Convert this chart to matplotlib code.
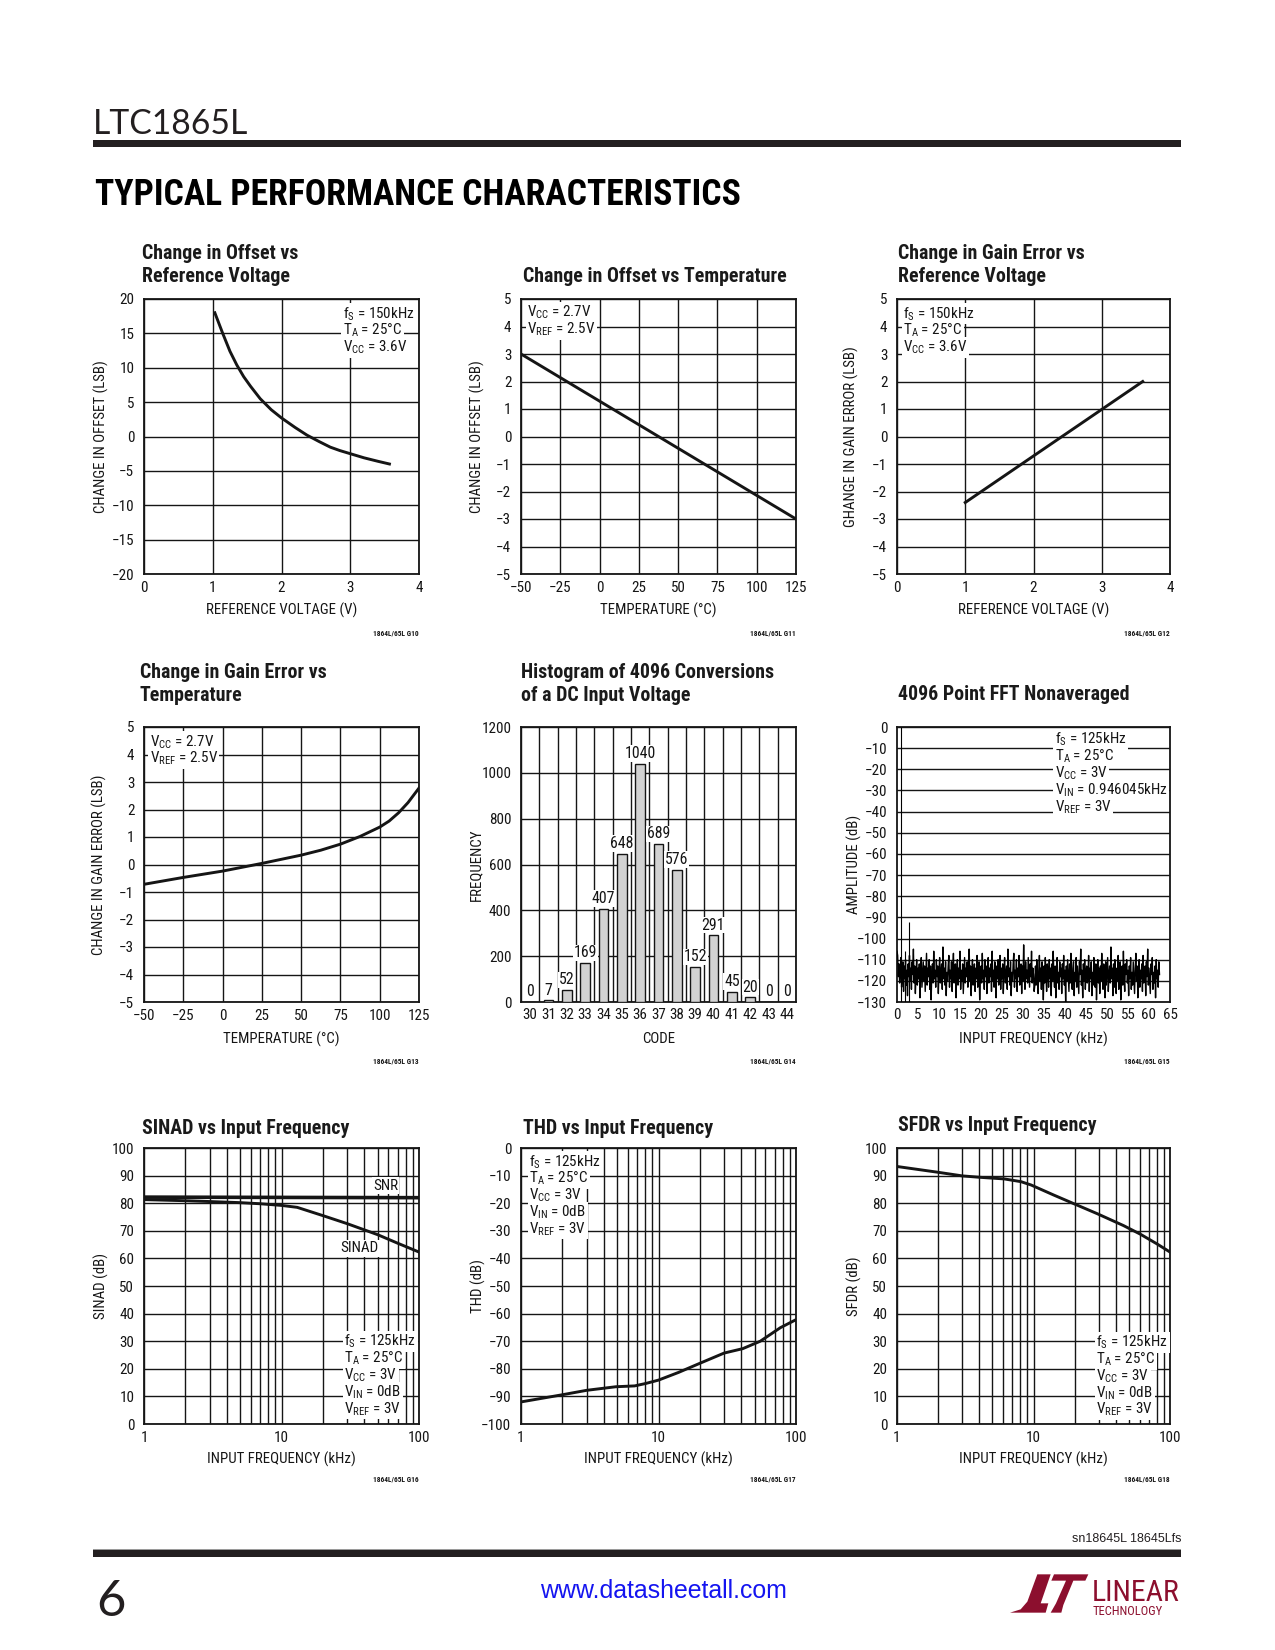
import numpy as np
import matplotlib
matplotlib.use('Agg')
import matplotlib.pyplot as plt
from matplotlib import font_manager as fm
from matplotlib.patches import Rectangle, Polygon
from matplotlib.ticker import FixedLocator, NullFormatter, FixedFormatter, MultipleLocator

# ---------------- data ----------------
offset_vref_v = [1.03, 1.145, 1.25, 1.35, 1.45, 1.55, 1.69, 1.85, 2.00, 2.20, 2.37, 2.55, 2.71, 2.85, 3.00, 3.20, 3.40, 3.57]
offset_vref_lsb = [18.0, 15.0, 12.4, 10.4, 8.7, 7.3, 5.5, 3.9, 2.7, 1.3, 0.2, -0.75, -1.55, -2.05, -2.5, -3.1, -3.6, -4.0]

offset_temp_c = [-50, 125]
offset_temp_lsb = [3.0, -3.0]

gain_vref_v = [1.0, 3.6]
gain_vref_lsb = [-2.4, 2.0]

gain_temp_c = [-50, -25, 0, 25, 50, 62.5, 75, 87.5, 100, 106, 112, 118, 125]
gain_temp_lsb = [-0.72, -0.47, -0.24, 0.04, 0.34, 0.52, 0.74, 1.02, 1.36, 1.58, 1.88, 2.25, 2.78]

hist_codes = [30, 31, 32, 33, 34, 35, 36, 37, 38, 39, 40, 41, 42, 43, 44]
hist_counts = [0, 7, 52, 169, 407, 648, 1040, 689, 576, 152, 291, 45, 20, 0, 0]

fft_noise_db = [
    -106, -108, -118, -112, -121, -114, -109, -123, -116, -111, -125, -113, -119, -110, -122, -115, -127, -112, -118, -108,
    -120, -114, -124, -111, -117, -105, -121, -113, -126, -116, -110, -122, -114, -119, -112, -128, -115, -109, -123, -117,
    -111, -120, -113, -125, -116, -107, -122, -114, -118, -110, -124, -113, -129, -117, -112, -121, -106, -119, -115, -123,
    -110, -118, -113, -126, -115, -109, -121, -116, -112, -124, -104, -119, -114, -122, -111, -127, -116, -120, -113, -108,
    -123, -115, -119, -111, -125, -114, -107, -121, -117, -112, -128, -116, -110, -122, -114, -119, -106, -124, -115, -120,
    -112, -126, -117, -109, -121, -114, -118, -111, -123, -115, -105, -120, -113, -127, -116, -110, -122, -118, -112, -125,
    -114, -119, -108, -123, -116, -111, -129, -117, -113, -121, -107, -119, -115, -124, -110, -118, -113, -126, -116, -109,
    -121, -114, -118, -112, -125, -106, -120, -115, -123, -111, -117, -128, -113, -119, -110, -122, -116, -108, -124, -114,
    -119, -112, -126, -115, -109, -121, -117, -113, -124, -105, -118, -114, -122, -111, -127, -116, -120, -112, -107, -123,
    -115, -119, -110, -125, -114, -118, -108, -122, -116, -112, -126, -113, -120, -103, -117, -124, -111, -119, -115, -121,
    -109, -116, -123, -112, -118, -106, -121, -114, -117, -125, -122,
    -113, -122, -110, -119, -126, -115, -108, -120, -114, -124, -111, -117, -129, -113, -121, -109, -118, -125, -112, -116,
    -123, -110, -119, -114, -127, -112, -120, -106, -117, -123, -113, -128, -115, -109, -121, -116, -124, -111, -118, -114,
    -126, -112, -119, -108, -122, -115, -130, -113, -120, -110, -117, -125, -112, -121, -107, -118, -124, -114, -111, -127,
    -116, -120, -109, -123, -113, -119, -126, -111, -117, -105, -122, -115, -128, -112, -120, -110, -124, -116, -113, -121,
    -118, -108, -125, -114, -119, -111, -127, -116, -122, -109, -115, -123, -112, -129, -117, -110, -121, -114, -126, -113,
    -120, -107, -118, -124, -112, -116, -128, -111, -122, -115, -109, -125, -117, -113, -121, -104, -119, -114, -127, -112,
    -123, -110, -117, -126, -114, -120, -108, -124, -116, -111, -129, -118, -113, -122, -106, -119, -125, -112, -117, -110,
    -121, -115, -127, -113, -119, -109, -124, -116, -122, -111, -118, -126, -114, -107, -120, -113, -128, -117, -110, -123,
    -115, -119, -112, -125, -108, -121, -116, -113, -127, -111, -118, -105, -122, -114, -120, -126, -112, -117, -109, -124,
    -116, -121, -113, -128, -110, -119, -115, -123, -111, -117,
]
fft_span_khz = 62.5
fft_peak_khz = [0.946, 1.89, 2.84]
fft_peak_db = [0.0, -106.0, -92.0]

sinad_f = [1, 2, 3, 5, 7, 10, 13, 20, 30, 50, 70, 100]
sinad_db = [81.3, 80.9, 80.6, 80.2, 79.8, 79.2, 78.5, 75.5, 72.6, 68.6, 65.5, 62.3]
snr_f = [1, 100]
snr_db = [82.2, 82.0]

thd_f = [1, 2, 3, 4.9, 6.7, 8.1, 10, 14, 20, 30, 41, 55, 77, 100]
thd_db = [-92.0, -89.4, -87.8, -86.5, -86.2, -85.3, -84.1, -81.3, -78.0, -74.3, -72.7, -70.0, -65.1, -62.2]

sfdr_f = [1, 2, 3, 4, 6.1, 8.1, 9.6, 14, 19.8, 29.3, 45.6, 60.5, 80, 100]
sfdr_db = [93.3, 91.2, 89.9, 89.4, 88.8, 87.8, 86.6, 83.0, 79.8, 76.2, 71.9, 68.8, 65.3, 62.3]

# ---------------- fonts ----------------
avail = {f.name for f in fm.fontManager.ttflist}
def pick(cands):
    for c in cands:
        if c in avail:
            return c
    return 'DejaVu Sans'

NARROW = pick(['Liberation Sans Narrow', 'Roboto Condensed', 'DejaVu Sans Condensed', 'Liberation Sans', 'Roboto'])
LIGHT = pick(['Lato', 'Roboto', 'Open Sans', 'DejaVu Sans'])
ARIAL = pick(['Liberation Sans', 'DejaVu Sans'])

plt.rcParams['font.family'] = [NARROW, 'DejaVu Sans']
plt.rcParams['mathtext.fontset'] = 'custom'
plt.rcParams['mathtext.rm'] = NARROW
plt.rcParams['mathtext.it'] = NARROW + ':italic'
plt.rcParams['mathtext.bf'] = NARROW + ':bold'
plt.rcParams['axes.unicode_minus'] = True

INK = '#151515'
RED = '#8c0f2e'

W, H = 1275, 1650
fig = plt.figure(figsize=(W / 100, H / 100), dpi=100)
renderer = fig.canvas.get_renderer()

def fx(x):
    return x / W

def fy(y):
    return 1 - y / H

def size_for(s, target_px, weight='normal', family=None, base=12.0):
    kw = dict(fontsize=base, fontweight=weight)
    if family:
        kw['family'] = family
    t = fig.text(0, 0, s, **kw)
    w = t.get_window_extent(renderer).width
    t.remove()
    return base * target_px / w

TT = min(size_for('Change in Offset vs Temperature', 263, 'bold'), 16)
LS = min(size_for('REFERENCE VOLTAGE (V)', 150), 12)
TS = min(size_for('1200', 29.5), 12.5)
AS = TS

def add_ax(l, t, r, b):
    return fig.add_axes([fx(l), fy(b), (r - l) / W, (b - t) / H])

def style(ax):
    for s in ax.spines.values():
        s.set_linewidth(1.3)
        s.set_color(INK)
    ax.tick_params(which='both', length=0, labelsize=TS, colors=INK)
    ax.tick_params(axis='y', pad=7)
    ax.tick_params(axis='x', pad=5)
    ax.set_axisbelow(True)

def grid(ax, which='both', axis='both'):
    ax.grid(True, which=which, axis=axis, color=INK, lw=1.0)

def labels(ax, xl, yl, ylx=-0.13, xly=-0.105):
    ax.set_xlabel(xl, fontsize=LS, color=INK)
    ax.set_ylabel(yl, fontsize=LS, color=INK)
    ax.yaxis.set_label_coords(ylx, 0.5)
    ax.xaxis.set_label_coords(0.5, xly)

def annot(ax, lines, x, y, dy=16.8):
    for i, s in enumerate(lines):
        ax.annotate(s, xy=(x, y), xycoords='axes fraction',
                    xytext=(0, -i * dy * 0.72), textcoords='offset points',
                    ha='left', va='center', fontsize=AS, color=INK,
                    bbox=dict(fc='white', ec='none', pad=1.2), zorder=6)

def title(x, ybase, lines):
    n = len(lines)
    for i, s in enumerate(lines):
        fig.text(fx(x), fy(ybase - (n - 1 - i) * 23), s, fontsize=TT, fontweight='bold',
                 ha='left', va='baseline', color='#1a1a1a')

def gcode(xr, y, s):
    fig.text(fx(xr), fy(y), s, fontsize=5.3, fontweight='bold', ha='right', va='center', color=INK)

LW = 2.1
R1 = (299, 574)
R2 = (727, 1002)
R3 = (1148, 1424)
C1 = (144, 419)
C2 = (521, 796)
C3 = (897, 1170)

# ---------- Plot 1 ----------
ax = add_ax(C1[0], R1[0], C1[1], R1[1])
style(ax)
ax.set_xlim(0, 4); ax.set_ylim(-20, 20)
ax.xaxis.set_major_locator(MultipleLocator(1))
ax.yaxis.set_major_locator(MultipleLocator(5))
grid(ax)
ax.plot(offset_vref_v, offset_vref_lsb, color=INK, lw=LW, solid_joinstyle='round')
labels(ax, 'REFERENCE VOLTAGE (V)', 'CHANGE IN OFFSET (LSB)', ylx=-0.129)
annot(ax, [r'f$_\mathrm{S}$ = 150kHz', r'T$_\mathrm{A}$ = 25°C', r'V$_\mathrm{CC}$ = 3.6V'], 0.724, 0.946)
title(142, 282, ['Change in Offset vs', 'Reference Voltage'])
gcode(419, 634, '1864L/65L G10')

# ---------- Plot 2 ----------
ax = add_ax(C2[0], R1[0], C2[1], R1[1])
style(ax)
ax.set_xlim(-50, 125); ax.set_ylim(-5, 5)
ax.xaxis.set_major_locator(MultipleLocator(25))
ax.yaxis.set_major_locator(MultipleLocator(1))
grid(ax)
ax.plot(offset_temp_c, offset_temp_lsb, color=INK, lw=LW)
labels(ax, 'TEMPERATURE (°C)', 'CHANGE IN OFFSET (LSB)', ylx=-0.13)
annot(ax, [r'V$_\mathrm{CC}$ = 2.7V', r'V$_\mathrm{REF}$ = 2.5V'], 0.023, 0.95)
title(523, 282, ['Change in Offset vs Temperature'])
gcode(796, 634, '1864L/65L G11')

# ---------- Plot 3 ----------
ax = add_ax(C3[0], R1[0], C3[1], R1[1])
style(ax)
ax.set_xlim(0, 4); ax.set_ylim(-5, 5)
ax.xaxis.set_major_locator(MultipleLocator(1))
ax.yaxis.set_major_locator(MultipleLocator(1))
grid(ax)
ax.plot(gain_vref_v, gain_vref_lsb, color=INK, lw=LW)
labels(ax, 'REFERENCE VOLTAGE (V)', 'GHANGE IN GAIN ERROR (LSB)', ylx=-0.138)
annot(ax, [r'f$_\mathrm{S}$ = 150kHz', r'T$_\mathrm{A}$ = 25°C', r'V$_\mathrm{CC}$ = 3.6V'], 0.023, 0.946)
title(898, 282, ['Change in Gain Error vs', 'Reference Voltage'])
gcode(1170, 634, '1864L/65L G12')

# ---------- Plot 4 ----------
ax = add_ax(C1[0], R2[0], C1[1], R2[1])
style(ax)
ax.set_xlim(-50, 125); ax.set_ylim(-5, 5)
ax.xaxis.set_major_locator(MultipleLocator(25))
ax.yaxis.set_major_locator(MultipleLocator(1))
grid(ax)
ax.plot(gain_temp_c, gain_temp_lsb, color=INK, lw=LW, solid_joinstyle='round')
labels(ax, 'TEMPERATURE (°C)', 'CHANGE IN GAIN ERROR (LSB)', ylx=-0.133, xly=-0.108)
annot(ax, [r'V$_\mathrm{CC}$ = 2.7V', r'V$_\mathrm{REF}$ = 2.5V'], 0.02, 0.946)
title(140, 701, ['Change in Gain Error vs', 'Temperature'])
gcode(419, 1061, '1864L/65L G13')

# ---------- Plot 5 (histogram) ----------
ax = add_ax(C2[0], R2[0], C2[1], R2[1])
style(ax)
ax.set_xlim(hist_codes[0] - 0.5, hist_codes[-1] + 0.5); ax.set_ylim(0, 1200)
ax.xaxis.set_major_locator(FixedLocator(hist_codes))
ax.xaxis.set_major_formatter(FixedFormatter([str(c) for c in hist_codes]))
ax.xaxis.set_minor_locator(FixedLocator([c - 0.5 for c in hist_codes] + [hist_codes[-1] + 0.5]))
ax.yaxis.set_major_locator(MultipleLocator(200))
ax.grid(True, which='minor', axis='x', color=INK, lw=1.0)
ax.grid(True, which='major', axis='y', color=INK, lw=1.0)
ax.tick_params(axis='x', pad=4)
ax.bar(hist_codes, hist_counts, width=0.53, color='#d2d2d2', edgecolor=INK, linewidth=1.0, zorder=3)
for c, v in zip(hist_codes, hist_counts):
    ax.annotate(str(v), xy=(c, v), xytext=(0, 2), textcoords='offset points', ha='center', va='bottom',
                fontsize=TS * 1.05, color=INK, bbox=dict(fc='white', ec='none', pad=0.6), zorder=5)
labels(ax, 'CODE', 'FREQUENCY', ylx=-0.137, xly=-0.108)
title(521, 701, ['Histogram of 4096 Conversions', 'of a DC Input Voltage'])
gcode(796, 1061, '1864L/65L G14')

# ---------- Plot 6 (FFT) ----------
ax = add_ax(C3[0], R2[0], C3[1], R2[1])
style(ax)
ax.set_xlim(0, 65); ax.set_ylim(-130, 0)
ax.xaxis.set_major_locator(MultipleLocator(5))
ax.yaxis.set_major_locator(MultipleLocator(10))
ax.grid(True, which='major', axis='y', color=INK, lw=1.0)
ax.tick_params(axis='x', pad=4)
fft_x = np.linspace(0, fft_span_khz, len(fft_noise_db))
ax.plot(fft_x, fft_noise_db, color='#000000', lw=1.0, zorder=3)
ax.vlines(fft_peak_khz, -130, fft_peak_db, color='#000000', lw=0.8, zorder=3)
labels(ax, 'INPUT FREQUENCY (kHz)', 'AMPLITUDE (dB)', ylx=-0.128, xly=-0.108)
annot(ax, [r'f$_\mathrm{S}$ = 125kHz', r'T$_\mathrm{A}$ = 25°C', r'V$_\mathrm{CC}$ = 3V',
           r'V$_\mathrm{IN}$ = 0.946045kHz', r'V$_\mathrm{REF}$ = 3V'], 0.577, 0.954)
title(898, 700, ['4096 Point FFT Nonaveraged'])
gcode(1170, 1061, '1864L/65L G15')

def logax(ax):
    ax.set_xscale('log')
    ax.set_xlim(1, 100)
    ax.xaxis.set_major_locator(FixedLocator([1, 10, 100]))
    ax.xaxis.set_major_formatter(FixedFormatter(['1', '10', '100']))
    ax.xaxis.set_minor_locator(FixedLocator([2, 3, 4, 5, 6, 7, 8, 9, 20, 30, 40, 50, 60, 70, 80, 90]))
    ax.xaxis.set_minor_formatter(NullFormatter())
    ax.yaxis.set_major_locator(MultipleLocator(10))
    grid(ax)

row3_lines = [r'f$_\mathrm{S}$ = 125kHz', r'T$_\mathrm{A}$ = 25°C', r'V$_\mathrm{CC}$ = 3V',
              r'V$_\mathrm{IN}$ = 0dB', r'V$_\mathrm{REF}$ = 3V']

# ---------- Plot 7 (SINAD) ----------
ax = add_ax(C1[0], R3[0], C1[1], R3[1])
style(ax)
logax(ax)
ax.set_ylim(0, 100)
ax.plot(snr_f, snr_db, color=INK, lw=2.6)
ax.plot(sinad_f, sinad_db, color=INK, lw=LW, solid_joinstyle='round')
ax.text(57, 86.3, 'SNR', ha='center', va='center', fontsize=AS, color=INK,
        bbox=dict(fc='white', ec='none', pad=1), zorder=5)
ax.text(37, 63.7, 'SINAD', ha='center', va='center', fontsize=AS, color=INK,
        bbox=dict(fc='white', ec='none', pad=1), zorder=5)
labels(ax, 'INPUT FREQUENCY (kHz)', 'SINAD (dB)', ylx=-0.129, xly=-0.10)
annot(ax, row3_lines, 0.728, 0.298)
title(142, 1134, ['SINAD vs Input Frequency'])
gcode(419, 1480, '1864L/65L G16')

# ---------- Plot 8 (THD) ----------
ax = add_ax(C2[0], R3[0], C2[1], R3[1])
style(ax)
logax(ax)
ax.set_ylim(-100, 0)
ax.plot(thd_f, thd_db, color=INK, lw=LW, solid_joinstyle='round')
labels(ax, 'INPUT FREQUENCY (kHz)', 'THD (dB)', ylx=-0.126, xly=-0.10)
annot(ax, row3_lines, 0.03, 0.95)
title(523, 1134, ['THD vs Input Frequency'])
gcode(796, 1480, '1864L/65L G17')

# ---------- Plot 9 (SFDR) ----------
ax = add_ax(C3[0], R3[0], C3[1], R3[1])
style(ax)
logax(ax)
ax.set_ylim(0, 100)
ax.plot(sfdr_f, sfdr_db, color=INK, lw=LW, solid_joinstyle='round')
labels(ax, 'INPUT FREQUENCY (kHz)', 'SFDR (dB)', ylx=-0.13, xly=-0.10)
annot(ax, row3_lines, 0.73, 0.295)
title(898, 1131, ['SFDR vs Input Frequency'])
gcode(1170, 1480, '1864L/65L G18')

# ---------------- page furniture ----------------
def rect(x0, y0, x1, y1, color):
    fig.add_artist(Rectangle((fx(x0), fy(y1)), (x1 - x0) / W, (y1 - y0) / H,
                             transform=fig.transFigure, color=color, lw=0))

rect(93, 140, 1181, 147, '#231f20')
rect(93, 1549, 1181, 1550, '#9a9a9a')
rect(93, 1550, 1181, 1557, '#231f20')

hs = min(size_for('LTC1865L', 155, 'normal', LIGHT, 20), 34)
fig.text(fx(93), fy(134), 'LTC1865L', fontsize=hs, fontweight='normal', family=LIGHT,
         ha='left', va='baseline', color='#231f20')

hh = min(size_for('TYPICAL PERFORMANCE CHARACTERISTICS', 647, 'heavy', NARROW, 20), 34)
fig.text(fx(95), fy(205), 'TYPICAL PERFORMANCE CHARACTERISTICS', fontsize=hh, fontweight='heavy',
         family=NARROW, ha='left', va='baseline', color='#000000')

fig.text(fx(1181), fy(1539), 'sn18645L 18645Lfs', fontsize=9, family=ARIAL, ha='right', va='center', color='#231f20')

ps = min(size_for('6', 29.5, 'normal', LIGHT, 30), 48)
fig.text(fx(96), fy(1616), '6', fontsize=ps, fontweight='normal', family=LIGHT, ha='left', va='baseline', color='#231f20')

ws = min(size_for('www.datasheetall.com', 249, 'normal', ARIAL, 16), 20)
fig.text(fx(663), fy(1591), 'www.datasheetall.com', fontsize=ws, family=ARIAL, ha='center', va='center', color='#1414f0')

# logo
def zpt(zx, zy):
    return (fx(980 + zx / 3), fy(1540 + zy / 3))

L_shape = [(90, 218), (122, 208), (142, 185), (172, 103), (212, 103), (182, 190), (205, 190), (197, 218)]
T_shape = [(222, 103), (325, 103), (316, 122), (280, 122), (250, 195), (244, 218), (212, 218),
           (228, 190), (258, 122), (214, 122)]
for shp in (L_shape, T_shape):
    fig.add_artist(Polygon([zpt(*p) for p in shp], closed=True, transform=fig.transFigure,
                           facecolor=RED, edgecolor='none'))
ls_ = min(size_for('LINEAR', 88, 'normal', NARROW, 20), 26)
fig.text(fx(1092), fy(1601), 'LINEAR', fontsize=ls_, family=NARROW, ha='left', va='baseline', color=RED)
ts_ = min(size_for('TECHNOLOGY', 87, 'normal', NARROW, 10), 9)
fig.text(fx(1093), fy(1615), 'TECHNOLOGY', fontsize=ts_, family=NARROW, ha='left', va='baseline', color=RED)

fig.savefig('out.png', dpi=100, facecolor='white')
